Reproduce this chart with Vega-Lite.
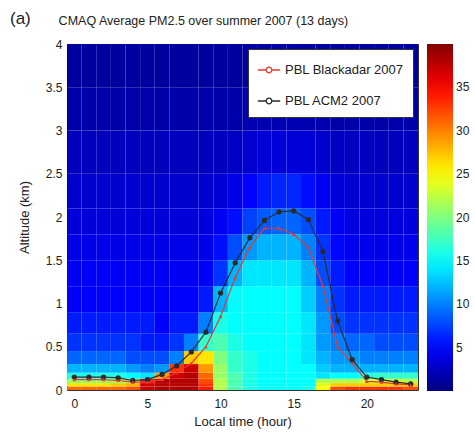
{
"$schema": "https://vega.github.io/schema/vega-lite/v6.json",
"autosize": "none",
"padding": {"left": 67, "top": 44, "right": 57, "bottom": 51},
"width": 351,
"height": 346,
"background": "white",
"title": {"text": "(a)", "subtitle": "\u200b\u00a0\u00a0\u00a0\u00a0\u00a0\u00a0\u00a0\u00a0\u00a0\u00a0\u00a0\u00a0\u00a0\u00a0CMAQ Average PM2.5 over summer 2007 (13 days)", "anchor": "start", "frame": "group", "dx": -57, "offset": 10, "fontSize": 17, "fontWeight": "normal", "color": "#222", "subtitleFontSize": 12.5, "subtitleColor": "#222", "subtitlePadding": -13},
"config": {
  "font": "Liberation Sans",
  "view": {"stroke": "#333", "strokeWidth": 1},
  "axis": {"domain": false, "ticks": false, "grid": false, "labelFontSize": 12, "labelColor": "#222", "titleFontSize": 13, "titleFontWeight": "normal", "titleColor": "#222", "labelFlush": false}
},
"datasets": {
"grid": [
{"h":0,"a":0,"b":0.04,"v":31},{"h":1,"a":0,"b":0.04,"v":31},{"h":2,"a":0,"b":0.04,"v":31},{"h":3,"a":0,"b":0.04,"v":31},{"h":4,"a":0,"b":0.04,"v":32},{"h":5,"a":0,"b":0.04,"v":37},{"h":6,"a":0,"b":0.04,"v":38},{"h":7,"a":0,"b":0.04,"v":38},{"h":8,"a":0,"b":0.04,"v":38},{"h":9,"a":0,"b":0.04,"v":34},{"h":10,"a":0,"b":0.04,"v":22},{"h":11,"a":0,"b":0.04,"v":18},{"h":12,"a":0,"b":0.04,"v":16},{"h":13,"a":0,"b":0.04,"v":15},{"h":14,"a":0,"b":0.04,"v":15},{"h":15,"a":0,"b":0.04,"v":15},{"h":16,"a":0,"b":0.04,"v":16},{"h":17,"a":0,"b":0.04,"v":25},{"h":18,"a":0,"b":0.04,"v":32},{"h":19,"a":0,"b":0.04,"v":33},{"h":20,"a":0,"b":0.04,"v":33},{"h":21,"a":0,"b":0.04,"v":33},{"h":22,"a":0,"b":0.04,"v":33},{"h":23,"a":0,"b":0.04,"v":32},
{"h":0,"a":0.04,"b":0.08,"v":26},{"h":1,"a":0.04,"b":0.08,"v":26},{"h":2,"a":0.04,"b":0.08,"v":26},{"h":3,"a":0.04,"b":0.08,"v":27},{"h":4,"a":0.04,"b":0.08,"v":28},{"h":5,"a":0.04,"b":0.08,"v":37},{"h":6,"a":0.04,"b":0.08,"v":38},{"h":7,"a":0.04,"b":0.08,"v":38},{"h":8,"a":0.04,"b":0.08,"v":38},{"h":9,"a":0.04,"b":0.08,"v":33},{"h":10,"a":0.04,"b":0.08,"v":22},{"h":11,"a":0.04,"b":0.08,"v":18},{"h":12,"a":0.04,"b":0.08,"v":16},{"h":13,"a":0.04,"b":0.08,"v":15},{"h":14,"a":0.04,"b":0.08,"v":15},{"h":15,"a":0.04,"b":0.08,"v":15},{"h":16,"a":0.04,"b":0.08,"v":15},{"h":17,"a":0.04,"b":0.08,"v":24},{"h":18,"a":0.04,"b":0.08,"v":27},{"h":19,"a":0.04,"b":0.08,"v":27},{"h":20,"a":0.04,"b":0.08,"v":27},{"h":21,"a":0.04,"b":0.08,"v":27},{"h":22,"a":0.04,"b":0.08,"v":27},{"h":23,"a":0.04,"b":0.08,"v":27},
{"h":0,"a":0.08,"b":0.13,"v":21},{"h":1,"a":0.08,"b":0.13,"v":21},{"h":2,"a":0.08,"b":0.13,"v":21},{"h":3,"a":0.08,"b":0.13,"v":21},{"h":4,"a":0.08,"b":0.13,"v":21},{"h":5,"a":0.08,"b":0.13,"v":34},{"h":6,"a":0.08,"b":0.13,"v":38},{"h":7,"a":0.08,"b":0.13,"v":38},{"h":8,"a":0.08,"b":0.13,"v":38},{"h":9,"a":0.08,"b":0.13,"v":32},{"h":10,"a":0.08,"b":0.13,"v":22},{"h":11,"a":0.08,"b":0.13,"v":18},{"h":12,"a":0.08,"b":0.13,"v":16},{"h":13,"a":0.08,"b":0.13,"v":15},{"h":14,"a":0.08,"b":0.13,"v":15},{"h":15,"a":0.08,"b":0.13,"v":15},{"h":16,"a":0.08,"b":0.13,"v":15},{"h":17,"a":0.08,"b":0.13,"v":22},{"h":18,"a":0.08,"b":0.13,"v":22},{"h":19,"a":0.08,"b":0.13,"v":22},{"h":20,"a":0.08,"b":0.13,"v":23},{"h":21,"a":0.08,"b":0.13,"v":23},{"h":22,"a":0.08,"b":0.13,"v":23},{"h":23,"a":0.08,"b":0.13,"v":22},
{"h":0,"a":0.13,"b":0.2,"v":16},{"h":1,"a":0.13,"b":0.2,"v":16},{"h":2,"a":0.13,"b":0.2,"v":16},{"h":3,"a":0.13,"b":0.2,"v":16},{"h":4,"a":0.13,"b":0.2,"v":15},{"h":5,"a":0.13,"b":0.2,"v":14},{"h":6,"a":0.13,"b":0.2,"v":29},{"h":7,"a":0.13,"b":0.2,"v":37},{"h":8,"a":0.13,"b":0.2,"v":38},{"h":9,"a":0.13,"b":0.2,"v":31},{"h":10,"a":0.13,"b":0.2,"v":21},{"h":11,"a":0.13,"b":0.2,"v":18},{"h":12,"a":0.13,"b":0.2,"v":16},{"h":13,"a":0.13,"b":0.2,"v":15},{"h":14,"a":0.13,"b":0.2,"v":15},{"h":15,"a":0.13,"b":0.2,"v":15},{"h":16,"a":0.13,"b":0.2,"v":15},{"h":17,"a":0.13,"b":0.2,"v":14},{"h":18,"a":0.13,"b":0.2,"v":15},{"h":19,"a":0.13,"b":0.2,"v":15},{"h":20,"a":0.13,"b":0.2,"v":16},{"h":21,"a":0.13,"b":0.2,"v":17},{"h":22,"a":0.13,"b":0.2,"v":17},{"h":23,"a":0.13,"b":0.2,"v":17},
{"h":0,"a":0.2,"b":0.3,"v":12},{"h":1,"a":0.2,"b":0.3,"v":12},{"h":2,"a":0.2,"b":0.3,"v":12},{"h":3,"a":0.2,"b":0.3,"v":12},{"h":4,"a":0.2,"b":0.3,"v":11},{"h":5,"a":0.2,"b":0.3,"v":10},{"h":6,"a":0.2,"b":0.3,"v":11},{"h":7,"a":0.2,"b":0.3,"v":33},{"h":8,"a":0.2,"b":0.3,"v":37},{"h":9,"a":0.2,"b":0.3,"v":29},{"h":10,"a":0.2,"b":0.3,"v":21},{"h":11,"a":0.2,"b":0.3,"v":17},{"h":12,"a":0.2,"b":0.3,"v":16},{"h":13,"a":0.2,"b":0.3,"v":15},{"h":14,"a":0.2,"b":0.3,"v":15},{"h":15,"a":0.2,"b":0.3,"v":15},{"h":16,"a":0.2,"b":0.3,"v":15},{"h":17,"a":0.2,"b":0.3,"v":13},{"h":18,"a":0.2,"b":0.3,"v":12},{"h":19,"a":0.2,"b":0.3,"v":12},{"h":20,"a":0.2,"b":0.3,"v":12},{"h":21,"a":0.2,"b":0.3,"v":12},{"h":22,"a":0.2,"b":0.3,"v":12},{"h":23,"a":0.2,"b":0.3,"v":12},
{"h":0,"a":0.3,"b":0.45,"v":9},{"h":1,"a":0.3,"b":0.45,"v":9},{"h":2,"a":0.3,"b":0.45,"v":9},{"h":3,"a":0.3,"b":0.45,"v":9},{"h":4,"a":0.3,"b":0.45,"v":8},{"h":5,"a":0.3,"b":0.45,"v":8},{"h":6,"a":0.3,"b":0.45,"v":8},{"h":7,"a":0.3,"b":0.45,"v":10},{"h":8,"a":0.3,"b":0.45,"v":27},{"h":9,"a":0.3,"b":0.45,"v":26},{"h":10,"a":0.3,"b":0.45,"v":20},{"h":11,"a":0.3,"b":0.45,"v":17},{"h":12,"a":0.3,"b":0.45,"v":16},{"h":13,"a":0.3,"b":0.45,"v":15},{"h":14,"a":0.3,"b":0.45,"v":15},{"h":15,"a":0.3,"b":0.45,"v":15},{"h":16,"a":0.3,"b":0.45,"v":14},{"h":17,"a":0.3,"b":0.45,"v":12},{"h":18,"a":0.3,"b":0.45,"v":11},{"h":19,"a":0.3,"b":0.45,"v":11},{"h":20,"a":0.3,"b":0.45,"v":10},{"h":21,"a":0.3,"b":0.45,"v":10},{"h":22,"a":0.3,"b":0.45,"v":10},{"h":23,"a":0.3,"b":0.45,"v":10},
{"h":0,"a":0.45,"b":0.65,"v":7},{"h":1,"a":0.45,"b":0.65,"v":7},{"h":2,"a":0.45,"b":0.65,"v":7},{"h":3,"a":0.45,"b":0.65,"v":7},{"h":4,"a":0.45,"b":0.65,"v":7},{"h":5,"a":0.45,"b":0.65,"v":6},{"h":6,"a":0.45,"b":0.65,"v":6},{"h":7,"a":0.45,"b":0.65,"v":7},{"h":8,"a":0.45,"b":0.65,"v":10},{"h":9,"a":0.45,"b":0.65,"v":17},{"h":10,"a":0.45,"b":0.65,"v":18},{"h":11,"a":0.45,"b":0.65,"v":16},{"h":12,"a":0.45,"b":0.65,"v":15},{"h":13,"a":0.45,"b":0.65,"v":15},{"h":14,"a":0.45,"b":0.65,"v":15},{"h":15,"a":0.45,"b":0.65,"v":15},{"h":16,"a":0.45,"b":0.65,"v":14},{"h":17,"a":0.45,"b":0.65,"v":11},{"h":18,"a":0.45,"b":0.65,"v":10},{"h":19,"a":0.45,"b":0.65,"v":9},{"h":20,"a":0.45,"b":0.65,"v":9},{"h":21,"a":0.45,"b":0.65,"v":8},{"h":22,"a":0.45,"b":0.65,"v":8},{"h":23,"a":0.45,"b":0.65,"v":8},
{"h":0,"a":0.65,"b":0.9,"v":6},{"h":1,"a":0.65,"b":0.9,"v":6},{"h":2,"a":0.65,"b":0.9,"v":6},{"h":3,"a":0.65,"b":0.9,"v":6},{"h":4,"a":0.65,"b":0.9,"v":6},{"h":5,"a":0.65,"b":0.9,"v":6},{"h":6,"a":0.65,"b":0.9,"v":5},{"h":7,"a":0.65,"b":0.9,"v":6},{"h":8,"a":0.65,"b":0.9,"v":6},{"h":9,"a":0.65,"b":0.9,"v":10},{"h":10,"a":0.65,"b":0.9,"v":16},{"h":11,"a":0.65,"b":0.9,"v":15},{"h":12,"a":0.65,"b":0.9,"v":15},{"h":13,"a":0.65,"b":0.9,"v":15},{"h":14,"a":0.65,"b":0.9,"v":15},{"h":15,"a":0.65,"b":0.9,"v":15},{"h":16,"a":0.65,"b":0.9,"v":14},{"h":17,"a":0.65,"b":0.9,"v":11},{"h":18,"a":0.65,"b":0.9,"v":8},{"h":19,"a":0.65,"b":0.9,"v":7},{"h":20,"a":0.65,"b":0.9,"v":7},{"h":21,"a":0.65,"b":0.9,"v":7},{"h":22,"a":0.65,"b":0.9,"v":7},{"h":23,"a":0.65,"b":0.9,"v":7},
{"h":0,"a":0.9,"b":1.2,"v":5},{"h":1,"a":0.9,"b":1.2,"v":5},{"h":2,"a":0.9,"b":1.2,"v":5},{"h":3,"a":0.9,"b":1.2,"v":5},{"h":4,"a":0.9,"b":1.2,"v":5},{"h":5,"a":0.9,"b":1.2,"v":5},{"h":6,"a":0.9,"b":1.2,"v":5},{"h":7,"a":0.9,"b":1.2,"v":5},{"h":8,"a":0.9,"b":1.2,"v":5},{"h":9,"a":0.9,"b":1.2,"v":6},{"h":10,"a":0.9,"b":1.2,"v":12},{"h":11,"a":0.9,"b":1.2,"v":15},{"h":12,"a":0.9,"b":1.2,"v":15},{"h":13,"a":0.9,"b":1.2,"v":15},{"h":14,"a":0.9,"b":1.2,"v":15},{"h":15,"a":0.9,"b":1.2,"v":15},{"h":16,"a":0.9,"b":1.2,"v":13},{"h":17,"a":0.9,"b":1.2,"v":10},{"h":18,"a":0.9,"b":1.2,"v":7},{"h":19,"a":0.9,"b":1.2,"v":6},{"h":20,"a":0.9,"b":1.2,"v":6},{"h":21,"a":0.9,"b":1.2,"v":6},{"h":22,"a":0.9,"b":1.2,"v":6},{"h":23,"a":0.9,"b":1.2,"v":6},
{"h":0,"a":1.2,"b":1.5,"v":4.6},{"h":1,"a":1.2,"b":1.5,"v":4.6},{"h":2,"a":1.2,"b":1.5,"v":4.6},{"h":3,"a":1.2,"b":1.5,"v":4.6},{"h":4,"a":1.2,"b":1.5,"v":4.6},{"h":5,"a":1.2,"b":1.5,"v":4.6},{"h":6,"a":1.2,"b":1.5,"v":4.6},{"h":7,"a":1.2,"b":1.5,"v":4.6},{"h":8,"a":1.2,"b":1.5,"v":4.6},{"h":9,"a":1.2,"b":1.5,"v":4.8},{"h":10,"a":1.2,"b":1.5,"v":7},{"h":11,"a":1.2,"b":1.5,"v":12},{"h":12,"a":1.2,"b":1.5,"v":14},{"h":13,"a":1.2,"b":1.5,"v":14},{"h":14,"a":1.2,"b":1.5,"v":14},{"h":15,"a":1.2,"b":1.5,"v":14},{"h":16,"a":1.2,"b":1.5,"v":12},{"h":17,"a":1.2,"b":1.5,"v":8},{"h":18,"a":1.2,"b":1.5,"v":6},{"h":19,"a":1.2,"b":1.5,"v":5},{"h":20,"a":1.2,"b":1.5,"v":4.8},{"h":21,"a":1.2,"b":1.5,"v":4.8},{"h":22,"a":1.2,"b":1.5,"v":4.8},{"h":23,"a":1.2,"b":1.5,"v":4.8},
{"h":0,"a":1.5,"b":1.8,"v":4.1},{"h":1,"a":1.5,"b":1.8,"v":4.1},{"h":2,"a":1.5,"b":1.8,"v":4.1},{"h":3,"a":1.5,"b":1.8,"v":4.1},{"h":4,"a":1.5,"b":1.8,"v":4.1},{"h":5,"a":1.5,"b":1.8,"v":4.1},{"h":6,"a":1.5,"b":1.8,"v":4.1},{"h":7,"a":1.5,"b":1.8,"v":4.1},{"h":8,"a":1.5,"b":1.8,"v":4.1},{"h":9,"a":1.5,"b":1.8,"v":4.2},{"h":10,"a":1.5,"b":1.8,"v":5.5},{"h":11,"a":1.5,"b":1.8,"v":8},{"h":12,"a":1.5,"b":1.8,"v":11},{"h":13,"a":1.5,"b":1.8,"v":12},{"h":14,"a":1.5,"b":1.8,"v":12},{"h":15,"a":1.5,"b":1.8,"v":12},{"h":16,"a":1.5,"b":1.8,"v":10},{"h":17,"a":1.5,"b":1.8,"v":7},{"h":18,"a":1.5,"b":1.8,"v":5.2},{"h":19,"a":1.5,"b":1.8,"v":4.4},{"h":20,"a":1.5,"b":1.8,"v":4.2},{"h":21,"a":1.5,"b":1.8,"v":4.2},{"h":22,"a":1.5,"b":1.8,"v":4.2},{"h":23,"a":1.5,"b":1.8,"v":4.2},
{"h":0,"a":1.8,"b":2.1,"v":3.6},{"h":1,"a":1.8,"b":2.1,"v":3.6},{"h":2,"a":1.8,"b":2.1,"v":3.6},{"h":3,"a":1.8,"b":2.1,"v":3.6},{"h":4,"a":1.8,"b":2.1,"v":3.6},{"h":5,"a":1.8,"b":2.1,"v":3.6},{"h":6,"a":1.8,"b":2.1,"v":3.6},{"h":7,"a":1.8,"b":2.1,"v":3.6},{"h":8,"a":1.8,"b":2.1,"v":3.6},{"h":9,"a":1.8,"b":2.1,"v":3.7},{"h":10,"a":1.8,"b":2.1,"v":4.5},{"h":11,"a":1.8,"b":2.1,"v":5.5},{"h":12,"a":1.8,"b":2.1,"v":7.5},{"h":13,"a":1.8,"b":2.1,"v":8.5},{"h":14,"a":1.8,"b":2.1,"v":9},{"h":15,"a":1.8,"b":2.1,"v":9},{"h":16,"a":1.8,"b":2.1,"v":8},{"h":17,"a":1.8,"b":2.1,"v":6},{"h":18,"a":1.8,"b":2.1,"v":4.6},{"h":19,"a":1.8,"b":2.1,"v":3.8},{"h":20,"a":1.8,"b":2.1,"v":3.7},{"h":21,"a":1.8,"b":2.1,"v":3.7},{"h":22,"a":1.8,"b":2.1,"v":3.7},{"h":23,"a":1.8,"b":2.1,"v":3.7},
{"h":0,"a":2.1,"b":2.5,"v":3.1},{"h":1,"a":2.1,"b":2.5,"v":3.1},{"h":2,"a":2.1,"b":2.5,"v":3.1},{"h":3,"a":2.1,"b":2.5,"v":3.1},{"h":4,"a":2.1,"b":2.5,"v":3.1},{"h":5,"a":2.1,"b":2.5,"v":3.1},{"h":6,"a":2.1,"b":2.5,"v":3.1},{"h":7,"a":2.1,"b":2.5,"v":3.1},{"h":8,"a":2.1,"b":2.5,"v":3.1},{"h":9,"a":2.1,"b":2.5,"v":3.1},{"h":10,"a":2.1,"b":2.5,"v":3.3},{"h":11,"a":2.1,"b":2.5,"v":4},{"h":12,"a":2.1,"b":2.5,"v":5},{"h":13,"a":2.1,"b":2.5,"v":6},{"h":14,"a":2.1,"b":2.5,"v":6.5},{"h":15,"a":2.1,"b":2.5,"v":6.5},{"h":16,"a":2.1,"b":2.5,"v":5.5},{"h":17,"a":2.1,"b":2.5,"v":4.5},{"h":18,"a":2.1,"b":2.5,"v":3.6},{"h":19,"a":2.1,"b":2.5,"v":3.2},{"h":20,"a":2.1,"b":2.5,"v":3.1},{"h":21,"a":2.1,"b":2.5,"v":3.1},{"h":22,"a":2.1,"b":2.5,"v":3.1},{"h":23,"a":2.1,"b":2.5,"v":3.1},
{"h":0,"a":2.5,"b":3,"v":2.4},{"h":1,"a":2.5,"b":3,"v":2.4},{"h":2,"a":2.5,"b":3,"v":2.4},{"h":3,"a":2.5,"b":3,"v":2.4},{"h":4,"a":2.5,"b":3,"v":2.4},{"h":5,"a":2.5,"b":3,"v":2.4},{"h":6,"a":2.5,"b":3,"v":2.4},{"h":7,"a":2.5,"b":3,"v":2.4},{"h":8,"a":2.5,"b":3,"v":2.4},{"h":9,"a":2.5,"b":3,"v":2.4},{"h":10,"a":2.5,"b":3,"v":2.4},{"h":11,"a":2.5,"b":3,"v":2.7},{"h":12,"a":2.5,"b":3,"v":3.1},{"h":13,"a":2.5,"b":3,"v":3.4},{"h":14,"a":2.5,"b":3,"v":3.6},{"h":15,"a":2.5,"b":3,"v":3.6},{"h":16,"a":2.5,"b":3,"v":3.4},{"h":17,"a":2.5,"b":3,"v":3},{"h":18,"a":2.5,"b":3,"v":2.7},{"h":19,"a":2.5,"b":3,"v":2.5},{"h":20,"a":2.5,"b":3,"v":2.4},{"h":21,"a":2.5,"b":3,"v":2.4},{"h":22,"a":2.5,"b":3,"v":2.4},{"h":23,"a":2.5,"b":3,"v":2.4},
{"h":0,"a":3,"b":3.5,"v":1.7},{"h":1,"a":3,"b":3.5,"v":1.7},{"h":2,"a":3,"b":3.5,"v":1.7},{"h":3,"a":3,"b":3.5,"v":1.7},{"h":4,"a":3,"b":3.5,"v":1.7},{"h":5,"a":3,"b":3.5,"v":1.7},{"h":6,"a":3,"b":3.5,"v":1.7},{"h":7,"a":3,"b":3.5,"v":1.7},{"h":8,"a":3,"b":3.5,"v":1.7},{"h":9,"a":3,"b":3.5,"v":1.7},{"h":10,"a":3,"b":3.5,"v":1.7},{"h":11,"a":3,"b":3.5,"v":1.7},{"h":12,"a":3,"b":3.5,"v":1.8},{"h":13,"a":3,"b":3.5,"v":1.9},{"h":14,"a":3,"b":3.5,"v":2},{"h":15,"a":3,"b":3.5,"v":2},{"h":16,"a":3,"b":3.5,"v":1.9},{"h":17,"a":3,"b":3.5,"v":1.8},{"h":18,"a":3,"b":3.5,"v":1.7},{"h":19,"a":3,"b":3.5,"v":1.7},{"h":20,"a":3,"b":3.5,"v":1.7},{"h":21,"a":3,"b":3.5,"v":1.7},{"h":22,"a":3,"b":3.5,"v":1.7},{"h":23,"a":3,"b":3.5,"v":1.7},
{"h":0,"a":3.5,"b":4,"v":1.2},{"h":1,"a":3.5,"b":4,"v":1.2},{"h":2,"a":3.5,"b":4,"v":1.2},{"h":3,"a":3.5,"b":4,"v":1.2},{"h":4,"a":3.5,"b":4,"v":1.2},{"h":5,"a":3.5,"b":4,"v":1.2},{"h":6,"a":3.5,"b":4,"v":1.2},{"h":7,"a":3.5,"b":4,"v":1.2},{"h":8,"a":3.5,"b":4,"v":1.2},{"h":9,"a":3.5,"b":4,"v":1.2},{"h":10,"a":3.5,"b":4,"v":1.2},{"h":11,"a":3.5,"b":4,"v":1.2},{"h":12,"a":3.5,"b":4,"v":1.3},{"h":13,"a":3.5,"b":4,"v":1.3},{"h":14,"a":3.5,"b":4,"v":1.4},{"h":15,"a":3.5,"b":4,"v":1.4},{"h":16,"a":3.5,"b":4,"v":1.3},{"h":17,"a":3.5,"b":4,"v":1.2},{"h":18,"a":3.5,"b":4,"v":1.2},{"h":19,"a":3.5,"b":4,"v":1.2},{"h":20,"a":3.5,"b":4,"v":1.2},{"h":21,"a":3.5,"b":4,"v":1.2},{"h":22,"a":3.5,"b":4,"v":1.2},{"h":23,"a":3.5,"b":4,"v":1.2}
],
"pbl": [
{"s":"PBL ACM2 2007","h":0,"z":0.15},{"s":"PBL ACM2 2007","h":1,"z":0.15},{"s":"PBL ACM2 2007","h":2,"z":0.15},{"s":"PBL ACM2 2007","h":3,"z":0.14},{"s":"PBL ACM2 2007","h":4,"z":0.11},{"s":"PBL ACM2 2007","h":5,"z":0.12},{"s":"PBL ACM2 2007","h":6,"z":0.18},{"s":"PBL ACM2 2007","h":7,"z":0.28},{"s":"PBL ACM2 2007","h":8,"z":0.44},{"s":"PBL ACM2 2007","h":9,"z":0.67},{"s":"PBL ACM2 2007","h":10,"z":1.12},{"s":"PBL ACM2 2007","h":11,"z":1.47},{"s":"PBL ACM2 2007","h":12,"z":1.76},{"s":"PBL ACM2 2007","h":13,"z":1.96},{"s":"PBL ACM2 2007","h":14,"z":2.06},{"s":"PBL ACM2 2007","h":15,"z":2.07},{"s":"PBL ACM2 2007","h":16,"z":1.97},{"s":"PBL ACM2 2007","h":17,"z":1.6},{"s":"PBL ACM2 2007","h":18,"z":0.8},{"s":"PBL ACM2 2007","h":19,"z":0.35},{"s":"PBL ACM2 2007","h":20,"z":0.15},{"s":"PBL ACM2 2007","h":21,"z":0.12},{"s":"PBL ACM2 2007","h":22,"z":0.09},{"s":"PBL ACM2 2007","h":23,"z":0.07},
{"s":"PBL Blackadar 2007","h":0,"z":0.12},{"s":"PBL Blackadar 2007","h":1,"z":0.12},{"s":"PBL Blackadar 2007","h":2,"z":0.12},{"s":"PBL Blackadar 2007","h":3,"z":0.11},{"s":"PBL Blackadar 2007","h":4,"z":0.09},{"s":"PBL Blackadar 2007","h":5,"z":0.09},{"s":"PBL Blackadar 2007","h":6,"z":0.12},{"s":"PBL Blackadar 2007","h":7,"z":0.2},{"s":"PBL Blackadar 2007","h":8,"z":0.31},{"s":"PBL Blackadar 2007","h":9,"z":0.5},{"s":"PBL Blackadar 2007","h":10,"z":0.85},{"s":"PBL Blackadar 2007","h":11,"z":1.3},{"s":"PBL Blackadar 2007","h":12,"z":1.65},{"s":"PBL Blackadar 2007","h":13,"z":1.87},{"s":"PBL Blackadar 2007","h":14,"z":1.87},{"s":"PBL Blackadar 2007","h":15,"z":1.8},{"s":"PBL Blackadar 2007","h":16,"z":1.65},{"s":"PBL Blackadar 2007","h":17,"z":1.2},{"s":"PBL Blackadar 2007","h":18,"z":0.5},{"s":"PBL Blackadar 2007","h":19,"z":0.31},{"s":"PBL Blackadar 2007","h":20,"z":0.1},{"s":"PBL Blackadar 2007","h":21,"z":0.09},{"s":"PBL Blackadar 2007","h":22,"z":0.07},{"s":"PBL Blackadar 2007","h":23,"z":0.06}
]
},
"layer": [
{
  "data": {"name": "grid"},
  "mark": {"type": "rect", "strokeWidth": 0},
  "encoding": {
    "x": {"field": "h", "type": "ordinal", "axis": null, "scale": {"paddingInner": 0, "paddingOuter": 0}},
    "y": {"field": "a", "type": "quantitative", "scale": {"domain": [0, 4], "nice": false}, "axis": {"title": "Altitude (km)", "grid": false, "values": [0, 0.5, 1, 1.5, 2, 2.5, 3, 3.5, 4], "format": "~g", "labelPadding": 5, "titlePadding": 14}},
    "y2": {"field": "b"},
    "color": {"field": "v", "type": "quantitative",
      "scale": {"domain": [0, 5, 15, 25, 35, 40], "range": ["#000080", "#0000ff", "#00ffff", "#ffff00", "#ff0000", "#800000"], "interpolate": "rgb"},
      "legend": {"title": null, "orient": "right", "offset": 9, "gradientLength": 347, "gradientThickness": 26, "values": [5, 10, 15, 20, 25, 30, 35], "labelFontSize": 12, "labelColor": "#222", "labelOffset": 3, "gradientStrokeWidth": 0, "padding": 0}}
  }
},
{
  "data": {"name": "pbl"},
  "mark": {"type": "line", "strokeWidth": 1.2},
  "encoding": {
    "x": {"field": "h", "type": "quantitative", "scale": {"domain": [-0.5, 23.5], "nice": false, "zero": false}, "axis": {"title": "Local time (hour)", "grid": false, "values": [0, 5, 10, 15, 20], "labelPadding": 8, "titlePadding": 6}},
    "y": {"field": "z", "type": "quantitative", "axis": {"grid": false}},
    "color": {"field": "s", "type": "nominal",
      "scale": {"domain": ["PBL Blackadar 2007", "PBL ACM2 2007"], "range": ["#e8382e", "#2b2b2b"]},
      "legend": {"title": null, "orient": "top-right", "offset": 5, "fillColor": "white", "strokeColor": "#333", "padding": 9, "labelFontSize": 13, "labelColor": "#222", "symbolType": "M-1,0L-0.25,0M0.25,0L1,0M0.25,0A0.25,0.25,0,1,1,-0.25,0A0.25,0.25,0,1,1,0.25,0", "symbolSize": 500, "symbolStrokeWidth": 1.3, "rowPadding": 12, "labelOffset": 4}}
  }
},
{
  "data": {"name": "pbl"},
  "mark": {"type": "point", "filled": true, "opacity": 1},
  "encoding": {
    "x": {"field": "h", "type": "quantitative", "scale": {"domain": [-0.5, 23.5], "nice": false, "zero": false}, "axis": null},
    "y": {"field": "z", "type": "quantitative", "axis": {"grid": false}},
    "color": {"field": "s", "type": "nominal", "scale": {"domain": ["PBL Blackadar 2007", "PBL ACM2 2007"], "range": ["#e8382e", "#2b2b2b"]}, "legend": null},
    "shape": {"field": "s", "type": "nominal", "scale": {"domain": ["PBL Blackadar 2007", "PBL ACM2 2007"], "range": ["triangle-up", "circle"]}, "legend": null},
    "size": {"field": "s", "type": "nominal", "scale": {"domain": ["PBL Blackadar 2007", "PBL ACM2 2007"], "range": [14, 28]}, "legend": null}
  }
}
],
"resolve": {"scale": {"x": "independent", "color": "independent"}}
}
